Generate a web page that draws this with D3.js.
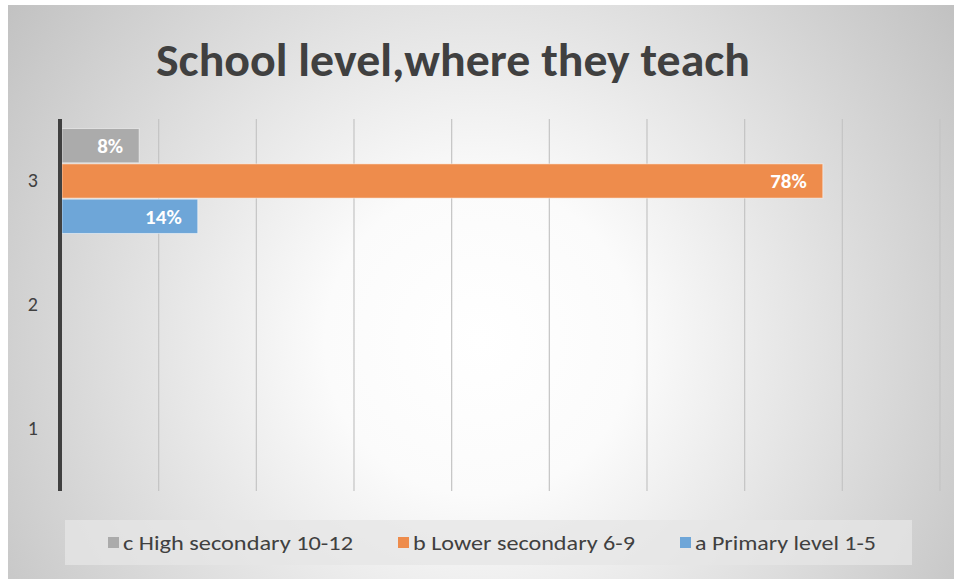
<!DOCTYPE html>
<html><head><meta charset="utf-8">
<script src="https://cdn.jsdelivr.net/npm/d3@7"></script>
<style>html,body{margin:0;padding:0;background:#fff;}svg{display:block;}</style>
</head><body>
<svg id="chart" width="954" height="579"></svg>
<script>
const title = "School level,where they teach";
const categories = ["3", "2", "1"];
const seriesNames = ["c High secondary 10-12", "b Lower secondary 6-9", "a Primary level 1-5"];
const seriesColors = ["#ababab", "#ee8c4c", "#6ea6d8"];
// values for category "3" (only category with data)
const valuesCat3 = [0.08, 0.78, 0.14];
const valuesCat2 = [null, null, null];
const valuesCat1 = [null, null, null];
const xTicks = [0, 0.1, 0.2, 0.3, 0.4, 0.5, 0.6, 0.7, 0.8, 0.9];

const svg = d3.select("#chart");
const defs = svg.append("defs");
const rg = defs.append("radialGradient").attr("id","bg")
  .attr("gradientUnits","userSpaceOnUse").attr("cx",480).attr("cy",340).attr("r",620);
rg.append("stop").attr("offset","0%").attr("stop-color","#ffffff");
rg.append("stop").attr("offset","25%").attr("stop-color","#fbfbfb");
rg.append("stop").attr("offset","100%").attr("stop-color","#bcbcbc");

svg.append("rect").attr("x",8).attr("y",5).attr("width",946).attr("height",574).attr("fill","url(#bg)");

const font = "Carlito, Calibri, 'Open Sans', 'Liberation Sans', sans-serif";

const tt = svg.append("text").attr("x",453).attr("y",76).attr("text-anchor","middle")
  .attr("font-family",font).attr("font-weight","bold").attr("font-size",46)
  .attr("fill","#404040").text(title);
tt.attr("textLength",594).attr("lengthAdjust","spacingAndGlyphs");

const plotTop = 119, plotBottom = 491;
const x = d3.scaleLinear().domain([0,0.9]).range([61,940]);
const y = d3.scaleBand().domain(categories).range([plotTop,plotBottom]);
const inner = d3.scaleBand().domain(d3.range(3)).range([0,y.bandwidth()]).paddingOuter(0.27).paddingInner(0.03);

// gridlines
svg.append("g").selectAll("line").data(xTicks.slice(1)).join("line")
  .attr("x1",d=>x(d)).attr("x2",d=>x(d)).attr("y1",plotTop).attr("y2",plotBottom)
  .attr("stroke","#c4c4c4").attr("stroke-width",1.2);

const allVals = {"3":valuesCat3,"2":valuesCat2,"1":valuesCat1};
const barData = [];
categories.forEach(c=>allVals[c].forEach((v,i)=>{ if(v!=null) barData.push({c,i,v}); }));

svg.append("g").selectAll("rect").data(barData).join("rect")
  .attr("x",x(0)+1).attr("y",d=>y(d.c)+inner(d.i))
  .attr("width",d=>x(d.v)-x(0)-1).attr("height",inner.bandwidth())
  .attr("fill",d=>seriesColors[d.i]).attr("stroke","rgba(255,255,255,0.5)").attr("stroke-width",1);

svg.append("g").selectAll("text").data(barData).join("text")
  .attr("x",d=>x(d.v)-16).attr("y",d=>y(d.c)+inner(d.i)+inner.bandwidth()/2)
  .attr("dy","0.35em").attr("text-anchor","end")
  .attr("font-family",font).attr("font-weight","bold").attr("font-size",21)
  .attr("fill","#ffffff").text(d=>Math.round(d.v*100)+"%");

// y axis
const yAxis = svg.append("g").attr("transform",`translate(${x(0)-1},0)`)
  .call(d3.axisLeft(y).tickSize(0).tickPadding(22));
yAxis.select(".domain").attr("stroke","#404040").attr("stroke-width",4).attr("d",`M0,${plotTop}V${plotBottom}`);
yAxis.selectAll("text").attr("font-family",font).attr("font-size",20).attr("fill","#404040");

// legend
const lg = svg.append("g");
lg.append("rect").attr("x",65).attr("y",520).attr("width",847).attr("height",45).attr("fill","#e6e6e6").attr("opacity",0.75);
const legX = [108, 398, 680];
const legW = [230, 222, 181];
seriesNames.forEach((n,i)=>{
  lg.append("rect").attr("x",legX[i]).attr("y",537).attr("width",11).attr("height",11).attr("fill",seriesColors[i]);
  lg.append("text").attr("x",legX[i]+15).attr("y",543).attr("dy","0.35em")
    .attr("font-family",font).attr("font-size",20).attr("fill","#404040")
    .attr("textLength",legW[i]).attr("lengthAdjust","spacingAndGlyphs").text(n);
});
</script>
</body></html>
